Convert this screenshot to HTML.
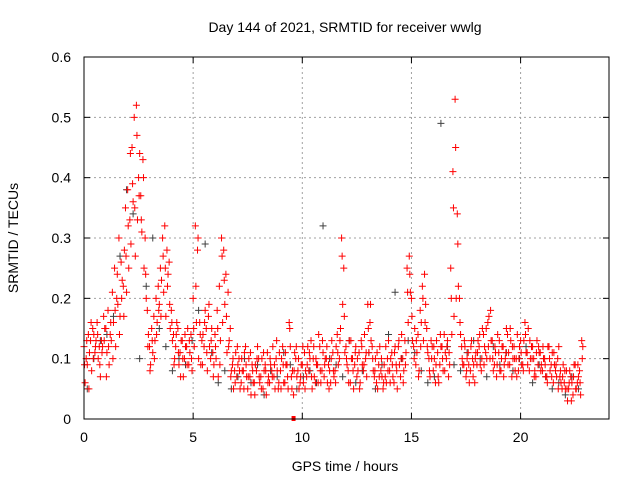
<!DOCTYPE html>
<html><head><meta charset="utf-8"><style>
body{margin:0;background:#fff}
svg text{font-family:"Liberation Sans",sans-serif;font-size:14px;fill:#000}
</style></head><body>
<svg id="chart" width="640" height="480" xmlns="http://www.w3.org/2000/svg">
<rect width="640" height="480" fill="#fff"/>
<text x="345" y="32" text-anchor="middle">Day 144 of 2021, SRMTID for receiver wwlg</text>
<text x="345" y="471" text-anchor="middle">GPS time / hours</text>
<text transform="translate(18,238) rotate(-90)" text-anchor="middle">SRMTID / TECUs</text>
<g id="grid"></g><g id="ticks"></g><g id="marks"></g>
<rect x="84" y="57" width="525" height="362" fill="none" stroke="#000" stroke-width="1"/>
</svg>
<script>
const xTicks=[0,5,10,15,20];
const yTicks=[0,0.1,0.2,0.3,0.4,0.5,0.6];
const yTickLabels=["0","0.1","0.2","0.3","0.4","0.5","0.6"];
const seriesAStart=0, seriesAStep=0.1;
const seriesA=[.12,.10,.14,.13,.15,.11,.16,.12,.13,.17,
.15,.18,.14,.21,.25,.20,.30,.26,.22,.35,
.38,.33,.45,.50,.52,.40,.37,.43,.30,.18,
.12,.15,.17,.20,.22,.25,.30,.32,.28,.26,
.18,.14,.12,.15,.11,.13,.10,.12,.09,.14,
.20,.32,.28,.16,.13,.12,.15,.17,.10,.11,
.14,.18,.22,.30,.28,.24,.21,.15,.09,.08,
.07,.10,.06,.08,.12,.05,.07,.09,.06,.08,
.10,.07,.05,.09,.11,.06,.08,.07,.10,.05,
.08,.12,.06,.09,.16,.07,.04,.10,.08,.06,
.09,.11,.07,.08,.13,.10,.06,.09,.12,.08,
.07,.10,.09,.06,.11,.08,.14,.10,.30,.25,
.12,.08,.06,.10,.09,.07,.11,.13,.08,.10,
.19,.16,.12,.07,.06,.09,.08,.05,.07,.10,
.08,.11,.06,.09,.12,.07,.10,.13,.25,.27,
.20,.12,.09,.14,.18,.22,.24,.15,.10,.13,
.08,.06,.11,.09,.12,.14,.10,.07,.25,.41,
.53,.34,.20,.12,.09,.07,.11,.08,.10,.06,
.09,.12,.08,.14,.11,.16,.10,.13,.09,.07,
.11,.08,.12,.10,.14,.09,.07,.12,.10,.08,
.13,.09,.16,.11,.08,.12,.10,.07,.09,.11,
.08,.10,.07,.12,.09,.06,.08,.10,.07,.05,
.06,.08,.05,.07,.04,.09,.06,.08,.13];
const seriesBStart=0.05, seriesBStep=0.1;
const seriesB=[.06,.09,.11,.08,.14,.13,.10,.07,.12,.15,
.11,.09,.13,.16,.12,.19,.17,.23,.28,.21,
.25,.29,.36,.27,.33,.44,.31,.25,.20,.14,
.09,.11,.13,.16,.19,.23,.21,.17,.24,.15,
.13,.10,.16,.09,.13,.07,.12,.15,.11,.08,
.12,.16,.10,.09,.14,.18,.08,.12,.15,.09,
.10,.07,.13,.16,.19,.11,.13,.08,.05,.11,
.09,.05,.08,.11,.07,.10,.04,.06,.09,.12,
.06,.10,.08,.04,.07,.09,.12,.05,.08,.11,
.10,.06,.09,.05,.12,.08,.11,.07,.05,.09,
.06,.08,.12,.10,.05,.07,.09,.14,.06,.11,
.10,.06,.08,.13,.07,.12,.09,.15,.19,.11,
.09,.13,.10,.05,.12,.08,.06,.09,.14,.07,
.11,.13,.08,.10,.05,.12,.07,.09,.06,.13,
.10,.07,.12,.05,.09,.14,.08,.11,.16,.21,
.13,.15,.11,.08,.16,.13,.19,.11,.07,.12,
.10,.13,.06,.12,.08,.11,.13,.09,.14,.17,
.20,.22,.14,.09,.12,.10,.06,.13,.09,.11,
.13,.09,.15,.12,.10,.17,.13,.08,.11,.14,
.08,.12,.09,.15,.11,.13,.10,.08,.14,.12,
.09,.13,.11,.15,.10,.12,.08,.13,.11,.09,
.10,.07,.12,.08,.11,.09,.07,.12,.06,.09,
.05,.03,.08,.06,.09,.05,.07,.04,.12];
const seriesCStart=0.025, seriesCStep=0.1;
const seriesC=[.09,.13,.05,.16,.10,.12,.14,.09,.11,.13,
.07,.12,.16,.10,.18,.24,.14,.20,.17,.27,
.32,.44,.39,.35,.47,.37,.33,.40,.24,.12,
.08,.13,.10,.14,.18,.17,.27,.25,.22,.19,
.16,.09,.14,.11,.07,.10,.14,.09,.13,.10,
.15,.22,.30,.14,.09,.16,.11,.19,.13,.07,
.12,.15,.09,.27,.23,.17,.12,.07,.10,.06,
.12,.08,.10,.05,.09,.07,.11,.08,.04,.10,
.07,.05,.11,.08,.06,.10,.07,.09,.13,.06,
.05,.09,.11,.07,.15,.05,.08,.12,.10,.07,
.12,.05,.09,.11,.07,.12,.10,.06,.08,.13,
.09,.12,.05,.10,.08,.06,.11,.13,.27,.17,
.10,.06,.13,.08,.11,.10,.05,.12,.09,.11,
.15,.19,.10,.08,.11,.07,.10,.06,.12,.08,
.06,.09,.11,.08,.13,.10,.06,.09,.21,.24,
.17,.10,.13,.07,.12,.20,.16,.12,.08,.10,
.12,.09,.07,.14,.10,.08,.12,.11,.20,.35,
.45,.29,.16,.10,.13,.08,.09,.12,.07,.10,
.11,.14,.10,.09,.15,.12,.18,.10,.12,.09,
.13,.10,.07,.11,.09,.15,.12,.10,.07,.10,
.11,.08,.14,.09,.13,.10,.07,.11,.12,.08,
.12,.09,.06,.10,.07,.11,.09,.05,.08,.07,
.08,.05,.06,.03,.07,.05,.09,.06,.10];
const grayStart=0.15, grayStep=0.3;
const grayValues=[.05,.10,.13,.14,.17,.27,.38,.34,.10,.22,.30,.15,.12,.08,.10,.09,.13,.18,.29,.11,.06,.08,.05,.07,.10,.06,.09,.04,.08,.07,.11,.09,.05,.07,.08,.06,.32,.10,.09,.07,.13,.06,.08,.11,.05,.09,.14,.21,.10,.13,.11,.08,.06,.07,.49,.12,.09,.08,.11,.13,.10,.07,.12,.09,.11,.08,.10,.12,.06,.09,.07,.05,.06,.04,.07,.05];
const zeroMarkerTime=[9.6];

const NS="http://www.w3.org/2000/svg";
const X=t=>84+t*(525/24.05);
const Y=v=>419-v*(362/0.6);
const grid=document.getElementById('grid'),ticks=document.getElementById('ticks'),marks=document.getElementById('marks');
function mk(tag,attrs,parent){const e=document.createElementNS(NS,tag);for(const k in attrs)e.setAttribute(k,attrs[k]);parent.appendChild(e);return e;}
xTicks.forEach(t=>{
  const x=X(t);
  if(t>0){const g=mk('line',{x1:x,x2:x,y1:57,y2:419,stroke:'#a0a0a0','stroke-dasharray':'2,3'},grid);
  
  }
  const l=mk('text',{x:x,y:442,'text-anchor':'middle'},ticks);l.textContent=t;
  
  
  mk('line',{x1:x,x2:x,y1:419,y2:413,stroke:'#000'},ticks);
  mk('line',{x1:x,x2:x,y1:57,y2:63,stroke:'#000'},ticks);
});
yTicks.forEach((v,i)=>{
  const y=Y(v);
  if(v>0&&v<0.6){const g=mk('line',{x1:84,x2:609,y1:y,y2:y,stroke:'#a0a0a0','stroke-dasharray':'2,3'},grid);
  
  }
  const l=mk('text',{x:71,y:y+5,'text-anchor':'end'},ticks);l.textContent=yTickLabels[i];
  
  
  mk('line',{x1:84,x2:90,y1:y,y2:y,stroke:'#000'},ticks);
  mk('line',{x1:609,x2:603,y1:y,y2:y,stroke:'#000'},ticks);
});
function plus(t,v,color,name){
  const x=X(t),y=Y(v);
  const p=mk('path',{d:`M${x-3.5} ${y}h7M${x} ${y-3.5}v7`,stroke:color,'stroke-width':1,fill:'none'},marks);
  
  
}
grayValues.forEach((v,i)=>plus(grayStart+i*grayStep,v,'#404040','gray-point'));
seriesA.forEach((v,i)=>plus(seriesAStart+i*seriesAStep,v,'#ff0000','red-point'));
seriesB.forEach((v,i)=>plus(seriesBStart+i*seriesBStep,v,'#ff0000','red-point'));
seriesC.forEach((v,i)=>plus(seriesCStart+i*seriesCStep,v,'#ff0000','red-point'));
zeroMarkerTime.forEach(t=>{
  const r=mk('rect',{x:X(t)-2,y:Y(0)-3,width:4,height:5,fill:'#ff0000'},marks);
  
  
});
</script>
</body></html>
